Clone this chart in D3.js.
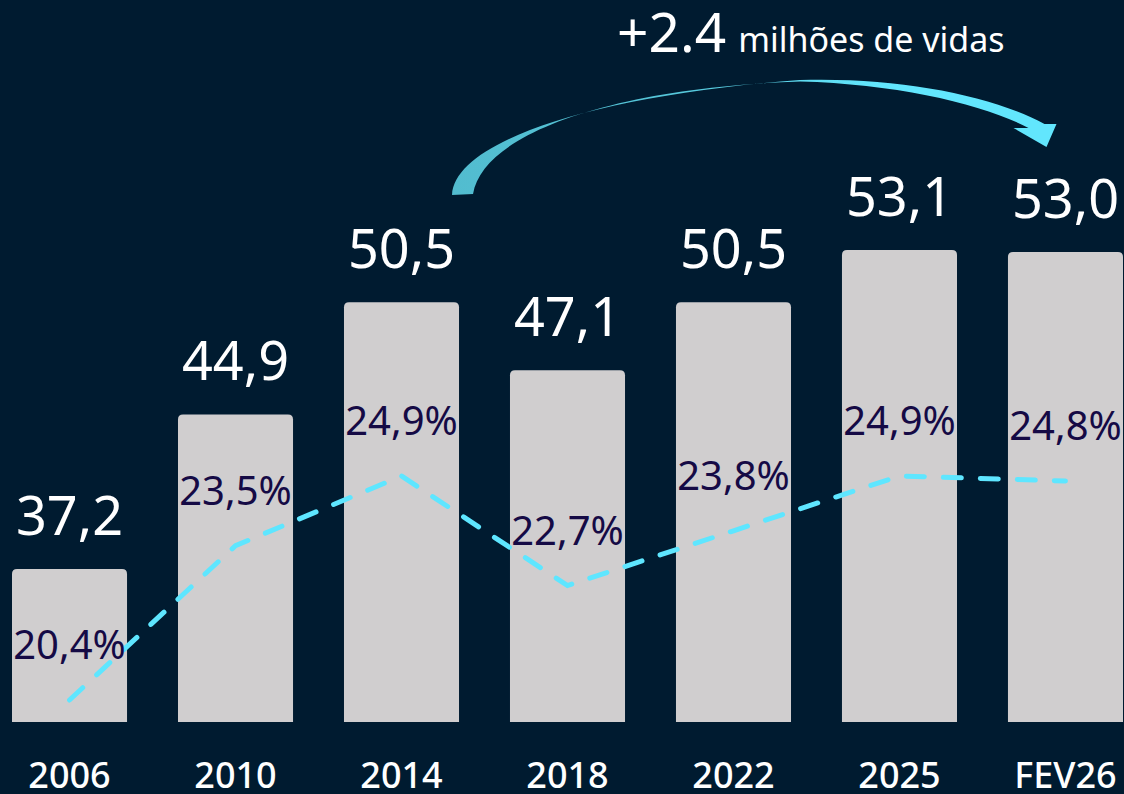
<!DOCTYPE html>
<html>
<head>
<meta charset="utf-8">
<script src="https://cdn.jsdelivr.net/npm/d3@7"></script>
<style>
  html, body { margin: 0; padding: 0; background: #001b30; }
  svg { display: block; }
  text { font-family: "Noto Sans", sans-serif; }
</style>
</head>
<body>
<svg id="chart" width="1124" height="794"></svg>
<script>
var years = ["2006", "2010", "2014", "2018", "2022", "2025", "FEV26"];
var vidas = [37.2, 44.9, 50.5, 47.1, 50.5, 53.1, 53.0];
var share = [20.4, 23.5, 24.9, 22.7, 23.8, 24.9, 24.8];
var headline = "+2.4";
var headlineRest = "milhões de vidas";

var width = 1124, height = 794;
var baseY = 722;

var svg = d3.select("#chart");

var fmt = function(v){ return d3.format(".1f")(v).replace(".", ","); };

var x = d3.scaleBand()
  .domain(years)
  .range([12, 1123])
  .paddingInner(0.307)
  .paddingOuter(0);

var yBar = d3.scaleLinear()
  .domain([29.57, 53.1])
  .range([baseY, 250]);

var yLine = d3.scaleLinear()
  .domain([20.4, 24.9])
  .range([700, 476]);

var cx = function(d){ return x(d) + x.bandwidth() / 2; };

// bars with rounded top corners
function barPath(x0, y0, w, h, r){
  return "M" + x0 + "," + (y0 + h) +
    "V" + (y0 + r) +
    "Q" + x0 + "," + y0 + " " + (x0 + r) + "," + y0 +
    "H" + (x0 + w - r) +
    "Q" + (x0 + w) + "," + y0 + " " + (x0 + w) + "," + (y0 + r) +
    "V" + (y0 + h) + "Z";
}

svg.append("g")
  .selectAll("path")
  .data(years)
  .enter()
  .append("path")
  .attr("d", function(d, i){
    var top = yBar(vidas[i]);
    return barPath(x(d), top, x.bandwidth(), baseY - top, 5);
  })
  .attr("fill", "#d0cecf");

// value labels above bars
svg.append("g")
  .selectAll("text")
  .data(years)
  .enter()
  .append("text")
  .attr("x", cx)
  .attr("y", function(d, i){ return yBar(vidas[i]) - 34; })
  .attr("text-anchor", "middle")
  .attr("font-size", 54)
  .attr("fill", "#ffffff")
  .text(function(d, i){ return fmt(vidas[i]); });

// dashed share line
var line = d3.line()
  .x(function(d){ return cx(d.year); })
  .y(function(d){ return yLine(d.v); });

var pts = years.map(function(d, i){ return {year: d, v: share[i]}; });

svg.append("path")
  .datum(pts)
  .attr("d", line)
  .attr("fill", "none")
  .attr("stroke", "#5ee6ff")
  .attr("stroke-width", 5)
  .attr("stroke-linecap", "round")
  .attr("stroke-dasharray", "18 19");

// share labels
svg.append("g")
  .selectAll("text")
  .data(pts)
  .enter()
  .append("text")
  .attr("x", function(d){ return cx(d.year); })
  .attr("y", function(d){ return yLine(d.v) - 41; })
  .attr("text-anchor", "middle")
  .attr("font-size", 40)
  .attr("fill", "#150a45")
  .text(function(d){ return fmt(d.v) + "%"; });

// year labels
svg.append("g")
  .selectAll("text")
  .data(years)
  .enter()
  .append("text")
  .attr("x", cx)
  .attr("y", 788)
  .attr("text-anchor", "middle")
  .attr("font-size", 36)
  .attr("font-weight", 500)
  .attr("fill", "#ffffff")
  .text(function(d){ return d; });

// curved arrow from 2014 to FEV26
var defs = svg.append("defs");
var grad = defs.append("linearGradient")
  .attr("id", "arrowGrad")
  .attr("gradientUnits", "userSpaceOnUse")
  .attr("x1", 450).attr("y1", 0)
  .attr("x2", 880).attr("y2", 0);
grad.append("stop").attr("offset", "0%").attr("stop-color", "#52bccf");
grad.append("stop").attr("offset", "50%").attr("stop-color", "#55c6d9");
grad.append("stop").attr("offset", "100%").attr("stop-color", "#62e6fd");

var ax0 = x("2014") + x.bandwidth();
var ax1 = cx("FEV26");
var p = d3.path();
p.moveTo(ax0 - 7, 195);
p.bezierCurveTo(ax0 - 4, 140, ax0 + 140, 95, ax0 + 341, 80);
p.bezierCurveTo(ax0 + 440, 77, ax1 - 75, 95, ax1 - 21, 124);
p.lineTo(ax1 - 9, 124);
p.lineTo(ax1 - 19, 147);
p.lineTo(ax1 - 52, 128);
p.lineTo(ax1 - 37, 128);
p.bezierCurveTo(ax1 - 80, 105, ax0 + 440, 84, ax0 + 341, 81.5);
p.bezierCurveTo(ax0 + 160, 87, ax0 + 24, 132, ax0 + 14, 194);
p.closePath();

svg.append("path")
  .attr("d", p.toString())
  .attr("fill", "url(#arrowGrad)");

// headline
var head = svg.append("text")
  .attr("x", 617)
  .attr("y", 52)
  .attr("fill", "#ffffff");
head.append("tspan")
  .attr("font-size", 55)
  .text(headline);
head.append("tspan")
  .attr("dx", 12)
  .attr("font-size", 34)
  .text(headlineRest);
</script>
</body>
</html>
